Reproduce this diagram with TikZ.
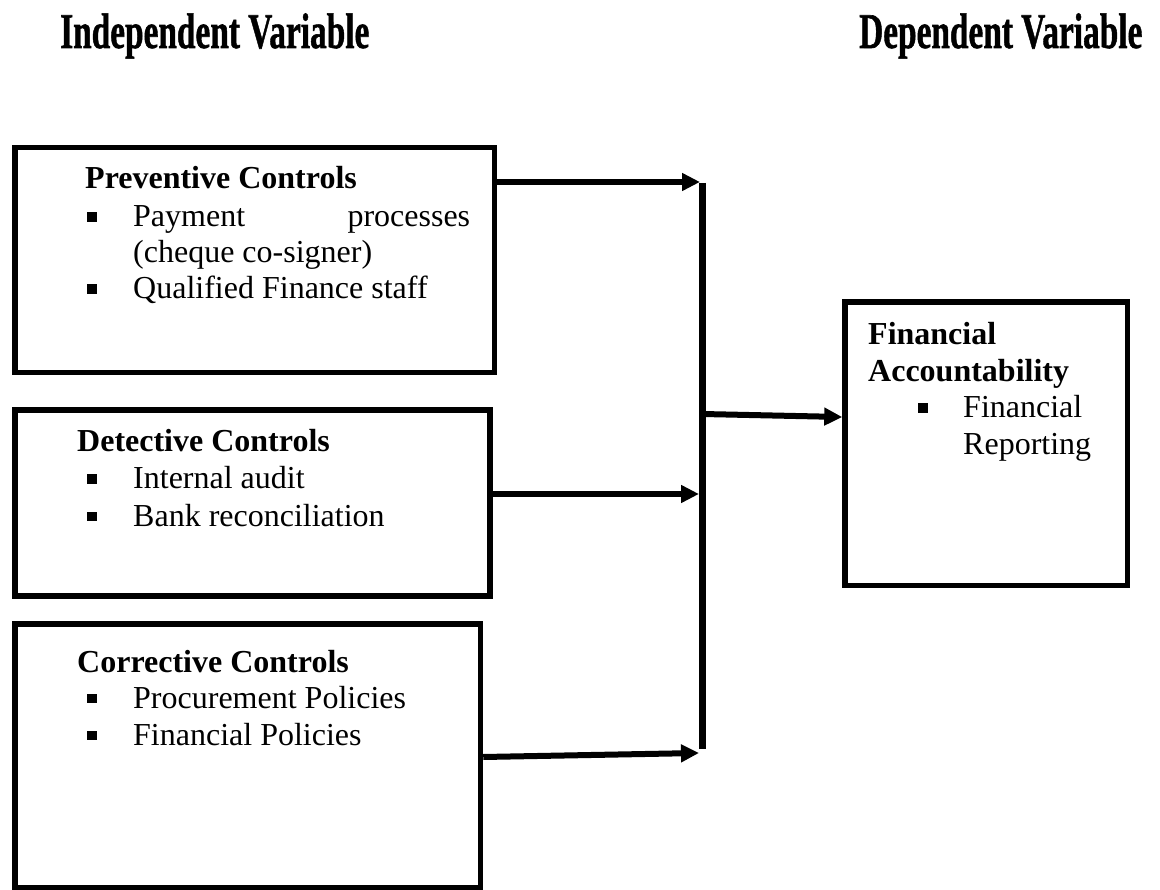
\documentclass[tikz,border=0pt]{standalone}
\usepackage{fontspec}
\setmainfont{Liberation Serif}
\newfontfamily\ttlfont[FakeBold=1.2]{Liberation Serif Bold}
\usetikzlibrary{arrows.meta}
\newcommand\sqbul{\raisebox{5pt}{\rule{9.5pt}{9.5pt}}}
\newcommand\itm[2]{\makebox[#1][l]{\sqbul}#2}
\tikzset{
  box/.style={draw=black, line width=5.5pt, fill=white, rectangle, inner sep=0pt},
  txt/.style={anchor=base west, inner sep=0pt, font=\fontsize{32}{36}\selectfont},
  hd/.style={txt, font=\fontsize{32}{36}\selectfont\bfseries},
  ttl/.style={anchor=base west, inner sep=0pt, font=\fontsize{50}{56}\selectfont\ttlfont},
  arr/.style={line width=6pt, -{Triangle[length=18pt,width=17pt]}},
  bar/.style={line width=7pt}
}
\begin{document}
\begin{tikzpicture}[x=1pt,y=-1pt]
\useasboundingbox[fill=white] (0,0) rectangle (1160,890);
% titles
\node[ttl] (indep) at (60,48) {\scalebox{0.667}[1]{Independent Variable}};
\node[ttl] (dep) at (859,48) {\scalebox{0.667}[1]{Dependent Variable}};
% boxes
\node[box, minimum width=479.5pt, minimum height=225pt] (prev) at (254.75,260) {};
\node[box, minimum width=475pt, minimum height=186pt] (det) at (252.5,503) {};
\node[box, minimum width=465.5pt, minimum height=264pt] (corr) at (247.75,756) {};
\node[box, minimum width=282.5pt, minimum height=283.5pt] (fin) at (986.25,443.75) {};
% preventive text
\node[hd] (prevh) at (85,189) {Preventive Controls};
\node[txt] (prev1) at (87,227) {\makebox[46pt][l]{\sqbul}\hbox to 337pt{Payment\hfill processes}};
\node[txt] (prev1b) at (133,263) {(cheque co-signer)};
\node[txt] (prev2) at (87,299) {\itm{46pt}{Qualified Finance staff}};
% detective text
\node[hd] (deth) at (77,452) {Detective Controls};
\node[txt] (det1) at (87,489) {\itm{46pt}{Internal audit}};
\node[txt] (det2) at (87,526) {\itm{46pt}{Bank reconciliation}};
% corrective text
\node[hd] (corrh) at (77,672) {Corrective Controls};
\node[txt] (corr1) at (87,708) {\itm{46pt}{Procurement Policies}};
\node[txt] (corr2) at (87,745) {\itm{46pt}{Financial Policies}};
% financial accountability text
\node[hd] (finh1) at (868,345) {Financial};
\node[hd] (finh2) at (868,382) {Accountability};
\node[txt] (fin1) at (918,418) {\itm{45pt}{Financial}};
\node[txt] (fin1b) at (963,455) {Reporting};
% collector bar
\coordinate (vtop) at (702.5,183);
\coordinate (vbot) at (702.5,749);
\coordinate (vmid) at (702.5,414);
\coordinate (e1) at (700,182);
\coordinate (e2) at (699,494);
\coordinate (e3) at (699,753);
\draw[bar] (vtop) -- (vbot);
% arrows
\draw[arr] (prev.east |- e1) -- (e1);
\draw[arr] (det.east |- e2) -- (e2);
\draw[arr] ([yshift=-4pt]corr.east |- e3) -- (e3);
\draw[arr] (vmid) -- ([yshift=-3pt]fin.west |- vmid);
\end{tikzpicture}
\end{document}
